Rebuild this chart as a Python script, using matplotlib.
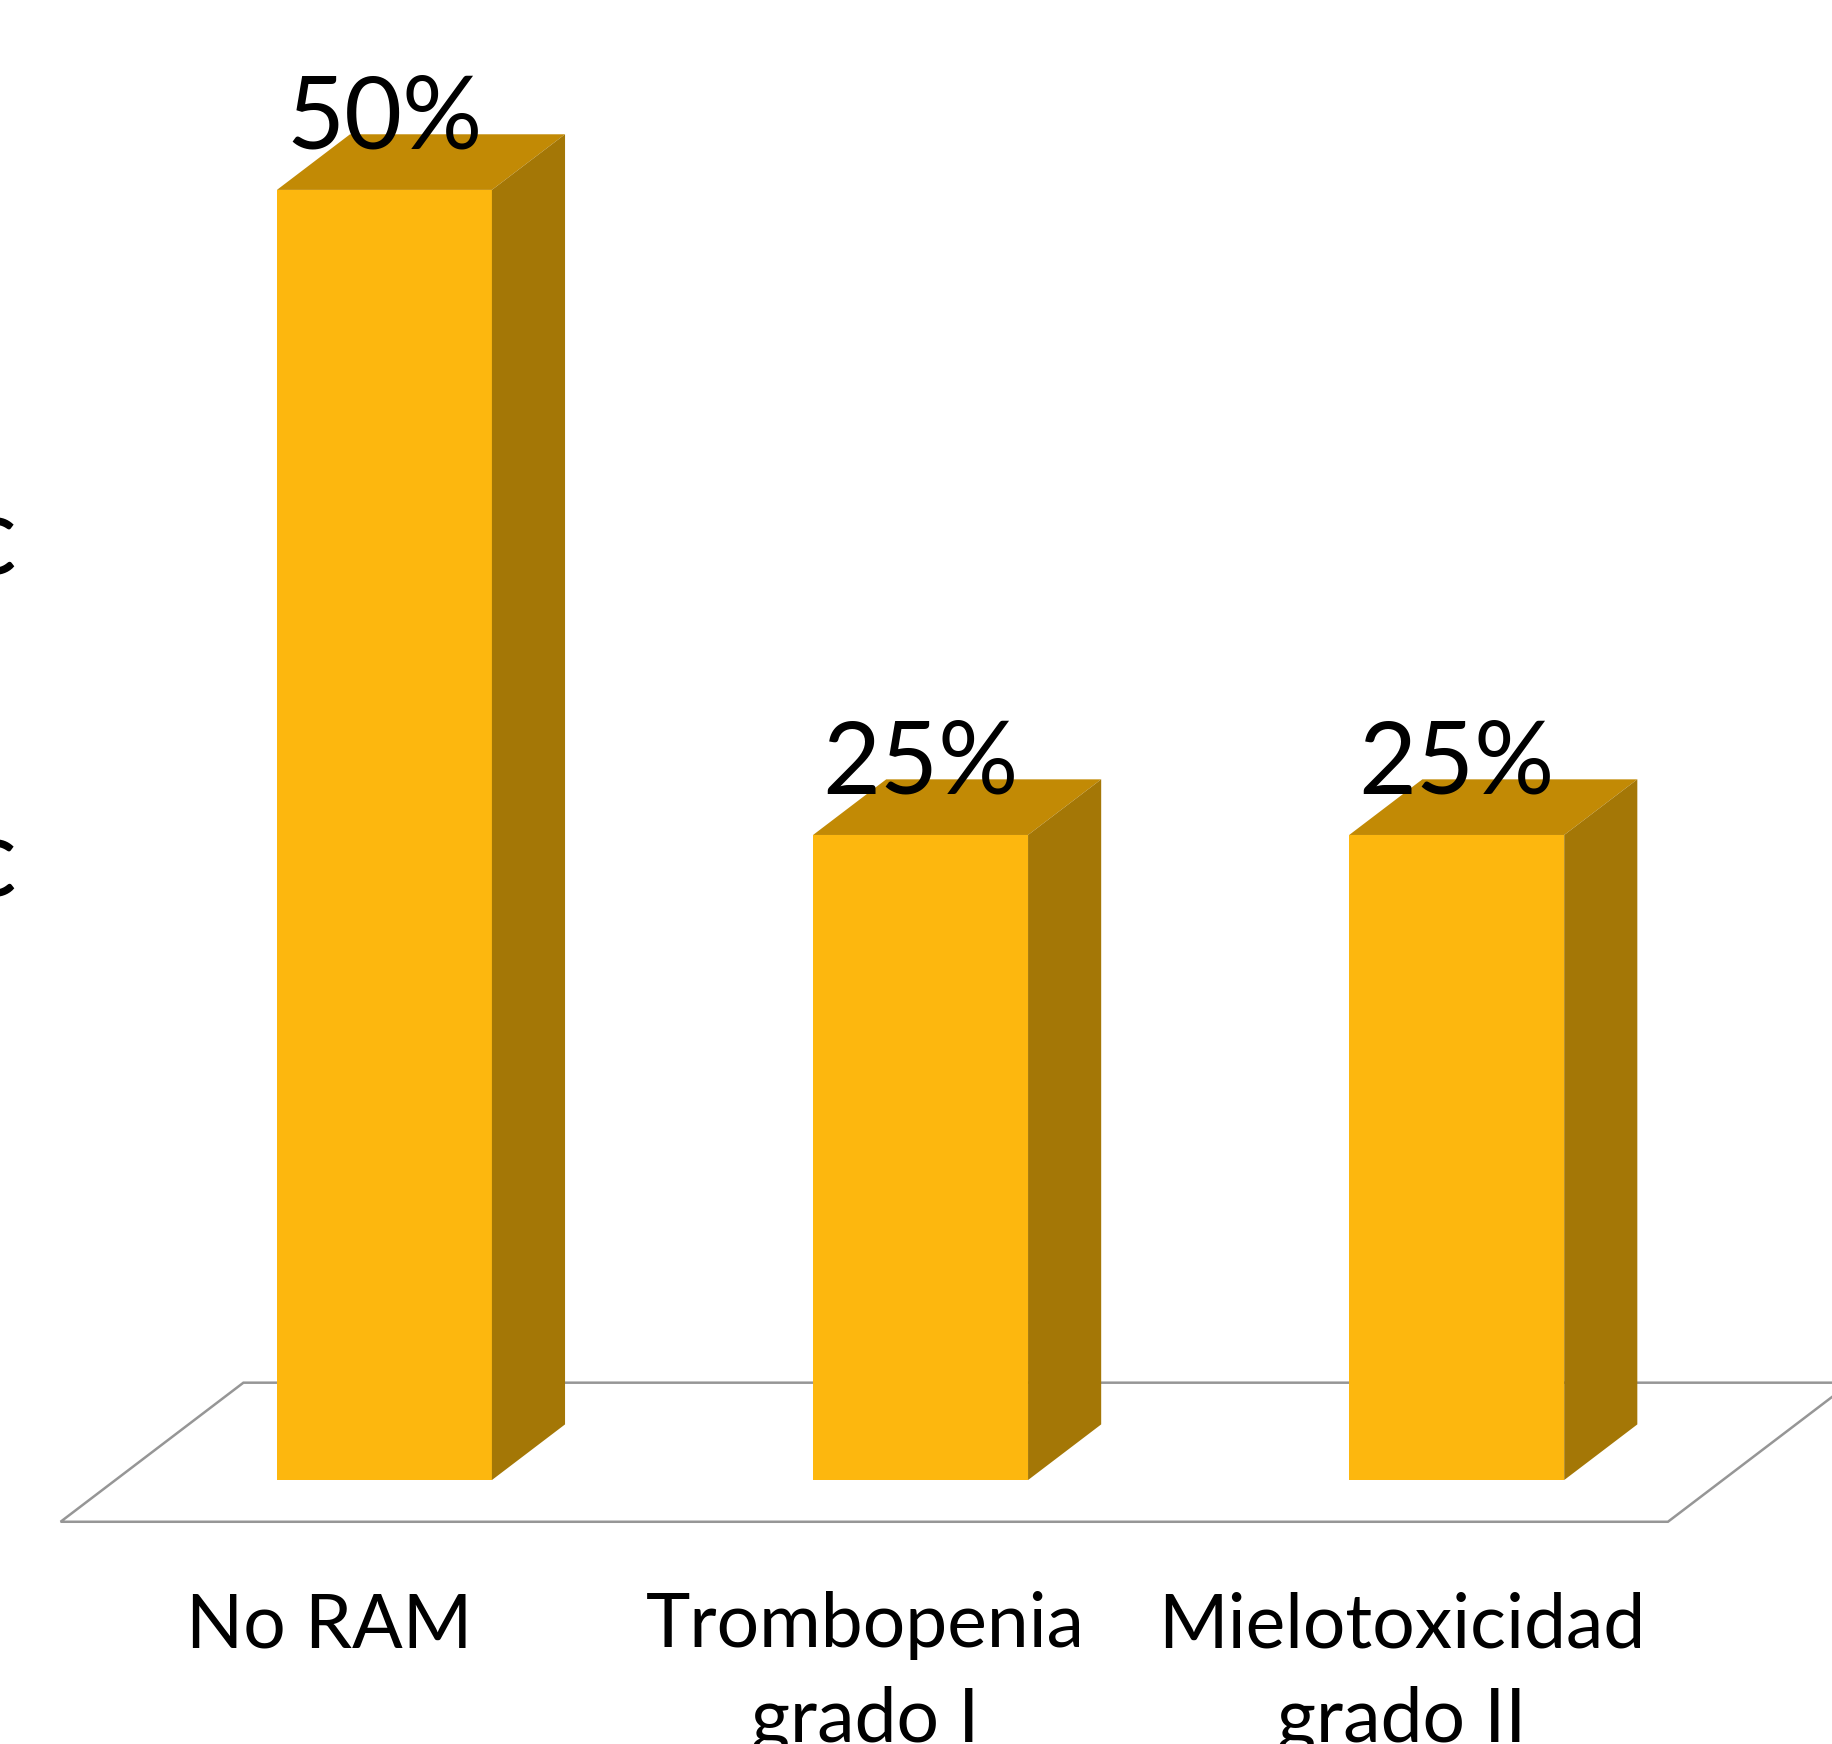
import matplotlib.pyplot as plt
from matplotlib.patches import Polygon

categories = ['No RAM', 'Trombopenia\ngrado I', 'Mielotoxicidad\ngrado II']
values = [50, 25, 25]
value_labels = ['50%', '25%', '25%']

front_col = '#FDB70E'
top_col = '#C28A05'
side_col = '#A47706'
floor_col = '#969696'

plt.rcParams['font.family'] = ['Lato', 'DejaVu Sans']

fig = plt.figure(figsize=(18.32, 17.44), dpi=100)
ax = fig.add_axes([0, 0, 1, 1])
ax.set_xlim(-0.717, 2.700)
ax.set_ylim(-10.23, 57.36)
ax.axis('off')

# oblique depth of the floor, bars sit between 30% and 70% of it
depth_x, depth_y = 0.341, 5.39
bx, by = 0.4 * depth_x, 0.4 * depth_y
w = 0.401
floor_front = -0.3 * depth_y
floor_left, floor_right = -0.604, 2.394

floor = Polygon([(floor_left, floor_front), (floor_right, floor_front),
                 (floor_right + depth_x, floor_front + depth_y),
                 (floor_left + depth_x, floor_front + depth_y)],
                closed=True, facecolor='white', edgecolor=floor_col,
                linewidth=1.8, zorder=1)
ax.add_patch(floor)

xs = list(range(len(values)))
ax.bar(xs, values, width=w, color=front_col, zorder=3)

for x, v, lab in zip(xs, values, value_labels):
    l, r = x - w / 2, x + w / 2
    ax.add_patch(Polygon([(l, v), (r, v), (r + bx, v + by), (l + bx, v + by)],
                         closed=True, facecolor=top_col, edgecolor='none', zorder=3))
    ax.add_patch(Polygon([(r, 0), (r + bx, by), (r + bx, v + by), (r, v)],
                         closed=True, facecolor=side_col, edgecolor='none', zorder=3))
    ax.text(x, v + 1.6, lab, ha='center', va='baseline', fontsize=72,
            color='black', zorder=5)

# category names, one text per line so the first line baselines agree
for x, cat in zip(xs, categories):
    for i, line in enumerate(cat.split('\n')):
        ax.text(x - 0.103, -6.48 - i * 3.68, line, ha='center', va='baseline',
                fontsize=54, color='black', zorder=5)

# clipped pieces of text at the left edge
fig.text(17 / 1832, 1 - 574 / 1744, 'c', ha='right', va='baseline', fontsize=80)
fig.text(17 / 1832, 1 - 896 / 1744, 'c', ha='right', va='baseline', fontsize=80)

fig.savefig('out.png', dpi=100, facecolor='white')
